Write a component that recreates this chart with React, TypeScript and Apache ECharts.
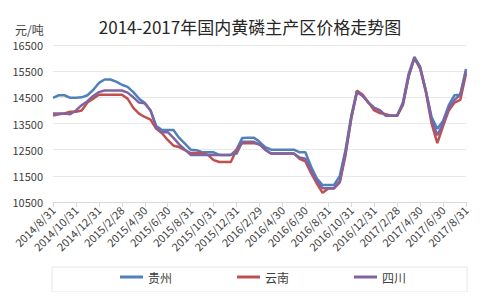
import React, { useEffect, useRef } from "react";
import * as echarts from "echarts";

// semi-monthly dates: month ends and mid-months, 2014/8/31 .. 2017/8/31
const monthEnds: string[] = [
  "2014/8/31", "2014/9/30", "2014/10/31", "2014/11/30", "2014/12/31",
  "2015/1/31", "2015/2/28", "2015/3/31", "2015/4/30", "2015/5/31", "2015/6/30",
  "2015/7/31", "2015/8/31", "2015/9/30", "2015/10/31", "2015/11/30", "2015/12/31",
  "2016/1/31", "2016/2/29", "2016/3/31", "2016/4/30", "2016/5/31", "2016/6/30",
  "2016/7/31", "2016/8/31", "2016/9/30", "2016/10/31", "2016/11/30", "2016/12/31",
  "2017/1/31", "2017/2/28", "2017/3/31", "2017/4/30", "2017/5/31", "2017/6/30",
  "2017/7/31", "2017/8/31",
];
const categories: string[] = [];
monthEnds.forEach((d, i) => {
  categories.push(d);
  if (i < monthEnds.length - 1) {
    const [y, m] = monthEnds[i + 1].split("/");
    categories.push(`${y}/${m}/15`);
  }
});

const guizhou = [
  14480, 14580, 14580, 14480, 14480, 14500, 14580, 14780, 15050, 15180,
  15180, 15100, 14980, 14900, 14700, 14450, 14280, 14000, 13400, 13250,
  13250, 13250, 12950, 12730, 12500, 12480, 12400, 12400, 12400, 12300,
  12300, 12300, 12500, 12950, 12960, 12960, 12800, 12600, 12500, 12500,
  12500, 12500, 12500, 12400, 12400, 11850, 11400, 11150, 11150, 11150,
  11500, 12500, 13800, 14750, 14550, 14300, 14100, 14000, 13800, 13800,
  13800, 14300, 15400, 16050, 15670, 14750, 13750, 13300, 13600, 14200,
  14580, 14600, 15580,
];
const yunnan = [
  13800, 13850, 13880, 13950, 13950, 14000, 14300, 14450, 14600, 14600,
  14600, 14600, 14600, 14450, 14100, 13880, 13750, 13650, 13300, 13130,
  12870, 12650, 12600, 12480, 12370, 12370, 12370, 12300, 12100, 12030,
  12030, 12030, 12500, 12750, 12750, 12750, 12700, 12500, 12350, 12350,
  12350, 12350, 12350, 12150, 12050, 11600, 11200, 10850, 11020, 11020,
  11250, 12300, 13700, 14750, 14600, 14300, 14000, 13900, 13850, 13800,
  13800, 14200, 15300, 16000, 15600, 14700, 13500, 12750, 13400, 14000,
  14300, 14400, 15400,
];
const sichuan = [
  13880, 13880, 13880, 13850, 14000, 14200, 14350, 14550, 14700, 14760,
  14760, 14760, 14760, 14680, 14500, 14300, 14270, 14000, 13350, 13170,
  13170, 12950, 12700, 12500, 12300, 12300, 12300, 12300, 12300, 12300,
  12300, 12300, 12350, 12800, 12800, 12800, 12700, 12500, 12350, 12350,
  12350, 12350, 12350, 12200, 12150, 11700, 11300, 11030, 11030, 11030,
  11300, 12400, 13700, 14700, 14550, 14300, 14100, 14000, 13800, 13800,
  13800, 14250, 15300, 16000, 15650, 14750, 13650, 13050, 13500, 14100,
  14400, 14600, 15500,
];
const yTicks = [10500, 11500, 12500, 13500, 14500, 15500, 16500];
const seriesNames = ["贵州", "云南", "四川"];
const colors = ["#4f81bd", "#c0504d", "#8064a2"];

const FONT = "'Noto Sans CJK SC', 'Noto Sans', sans-serif";

export default function App() {
  const ref = useRef<HTMLDivElement>(null);
  useEffect(() => {
    if (!ref.current) return;
    const chart = echarts.init(ref.current, null, { renderer: "svg" });
    const data = [guizhou, yunnan, sichuan];
    chart.setOption({
      animation: false,
      color: colors,
      textStyle: { fontFamily: FONT },
      title: {
        text: "2014-2017年国内黄磷主产区价格走势图",
        left: "center",
        top: 13,
        textStyle: { fontSize: 17, fontWeight: "normal", color: "#262626", fontFamily: FONT },
      },
      graphic: [
        {
          type: "text",
          left: 15,
          top: 23,
          style: { text: "元/吨", fontSize: 12, fill: "#404040", fontFamily: FONT },
        },
        {
          type: "rect",
          shape: { x: 52, y: 267, width: 415, height: 25 },
          style: { fill: "none", stroke: "#e6e6e6", lineWidth: 1 },
        },
      ],
      legend: {
        top: 271,
        left: 120,
        padding: 0,
        itemGap: 65,
        itemWidth: 23,
        itemHeight: 3,
        icon: "rect",
        textStyle: { fontSize: 12, color: "#404040", fontFamily: FONT },
        data: seriesNames,
      },
      grid: { left: 53, right: 34, top: 45, bottom: 98, containLabel: false },
      xAxis: {
        type: "category",
        data: categories,
        boundaryGap: false,
        axisLine: { lineStyle: { color: "#d9d9d9" } },
        axisTick: { show: true, interval: 3, length: 5, lineStyle: { color: "#d9d9d9" } },
        axisLabel: {
          interval: 3,
          rotate: 45,
          fontSize: 11,
          color: "#404040",
          margin: 6,
          fontFamily: FONT,
        },
      },
      yAxis: {
        type: "value",
        min: 10500,
        max: 16500,
        axisLine: { show: false },
        axisTick: { show: false, customValues: yTicks },
        axisLabel: {
          customValues: yTicks,
          formatter: (v: number) => String(v),
          fontSize: 11,
          color: "#404040",
          margin: 10,
          fontFamily: FONT,
        },
        splitLine: { lineStyle: { color: "#e8e8e8" } },
      },
      series: seriesNames.map((name, k) => ({
        name,
        type: "line",
        data: data[k],
        symbol: "none",
        lineStyle: { width: 2.5, color: colors[k] },
      })),
    });
    return () => chart.dispose();
  }, []);
  return <div ref={ref} style={{ width: 500, height: 300, margin: -8 }} />;
}
